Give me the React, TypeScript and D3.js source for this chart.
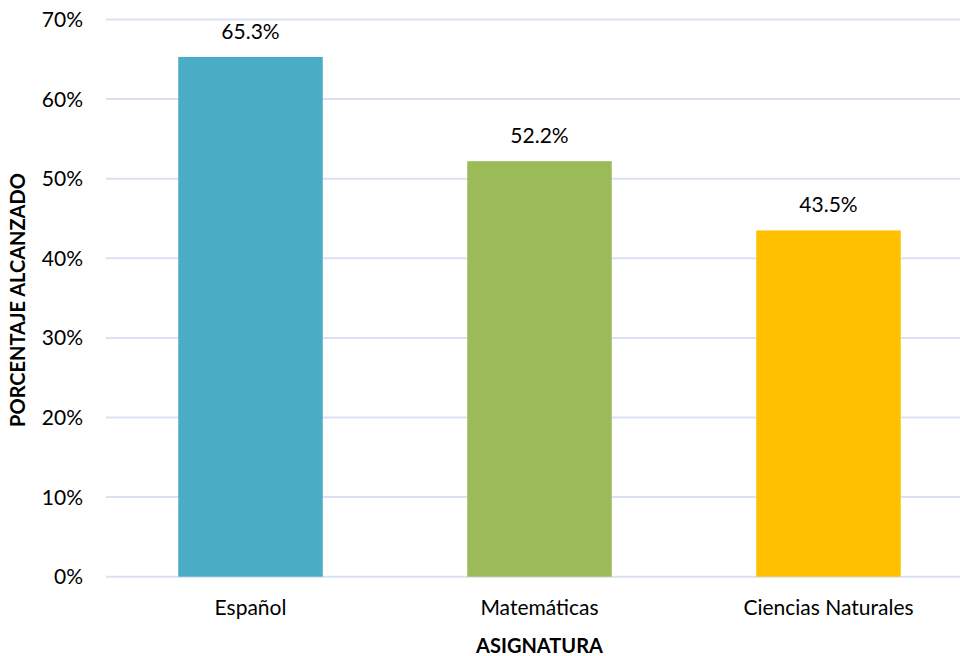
import React from "react";
import * as d3 from "d3";

const categories = ["Español", "Matemáticas", "Ciencias Naturales"];
const values = [65.3, 52.2, 43.5];
const colors = ["#4BACC6", "#9BBB59", "#FFC000"];
const yTicks = [0, 10, 20, 30, 40, 50, 60, 70];

const W = 960;
const H = 656;
const FONT = "Lato, 'Open Sans', sans-serif";

export default function App() {
  const left = 106;
  const right = 973;
  const top = 19.5;
  const bottom = 576.7;
  const x = d3.scaleBand<string>().domain(categories).range([left, right]).paddingInner(0.5).paddingOuter(0.25);
  const y = d3.scaleLinear().domain([0, 70]).range([bottom, top]);

  return (
    <svg width={W} height={H} style={{ position: "absolute", left: 0, top: 0, background: "#fff" }} fontFamily={FONT}>
      <rect width={W} height={H} fill="#fff" />
      {yTicks.map((t) => (
        <g key={t}>
          <line x1={left} x2={right} y1={y(t)} y2={y(t)} stroke="#D9E1F2" strokeWidth={2} />
          <text x={83} y={y(t)} dy="0.36em" textAnchor="end" fontSize={21} fill="#000">
            {t}%
          </text>
        </g>
      ))}
      {categories.map((c, i) => (
        <g key={c}>
          <rect x={x(c)!} y={y(values[i])} width={x.bandwidth()} height={y(0) - y(values[i])} fill={colors[i]} />
          <text x={x(c)! + x.bandwidth() / 2} y={y(values[i]) - 18} textAnchor="middle" fontSize={21} fill="#000">
            {values[i].toFixed(1)}%
          </text>
          <text x={x(c)! + x.bandwidth() / 2} y={615} textAnchor="middle" fontSize={21} fill="#000">
            {c}
          </text>
        </g>
      ))}
      <text x={539.5} y={653} textAnchor="middle" fontSize={20} fontWeight="bold" fill="#000">
        ASIGNATURA
      </text>
      <text transform={`translate(25,300) rotate(-90)`} textAnchor="middle" fontSize={20} fontWeight="bold" fill="#000">
        PORCENTAJE ALCANZADO
      </text>
    </svg>
  );
}
